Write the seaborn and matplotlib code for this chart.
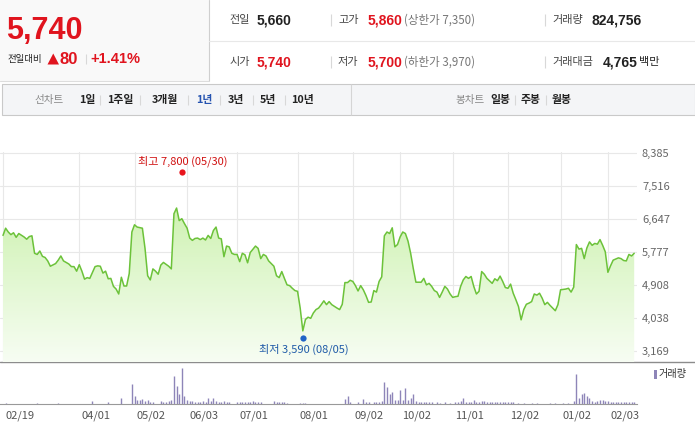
import numpy as np
import matplotlib
matplotlib.use("Agg")
import matplotlib.pyplot as plt
import matplotlib.transforms as mtrans
from matplotlib.colors import LinearSegmentedColormap
from matplotlib.patches import Rectangle, Polygon
import seaborn as sns

# ---------------- data ----------------
days = [0,1,2,3,4,5,6,8,9,10,11,12,13,14,15,16,17,18,20,21,22,23,25,26,27,28,29,30,31,32,33,35,36,37,38,39,
        40,41,42,43,44,45,46,47,48,49,50,51,53,54,55,56,57,58,59,60,61,62,63,64,65,66,67,68,69,70,71,72,73,74,
        75,76,77,78,79,80,81,82,83,84,85,86,87,88,89,90,91,92,93,94,96,97,98,99,100,101,103,104,105,106,107,108,
        109,110,111,112,113,114,115,116,117,118,119,120,121,122,123,124,125,127,128,129,130,131,132,133,134,135,
        136,137,138,139,140,141,142,143,144,145,146,147,148,149,150,151,152,153,154,155,156,157,158,159,160,161,
        162,163,164,165,166,167,168,169,170,171,172,173,174,175,176,177,178,179,180,181,182,183,184,186,187,188,
        189,190,191,192,193,194,195,196,197,198,199,200,201,202,203,204,205,206,207,208,209,210,211,212,214,215,
        216,217,218,219,220,221,222,223,224,225,226,227,228,229,230,231,232,233,234,235,236,237,238,239,240]
prices = [6210,6400,6300,6230,6280,6160,6260,6170,6110,6180,6200,5740,5710,5800,5660,5630,5540,5400,5470,5560,
          5670,5540,5460,5390,5390,5270,5440,5270,5060,5100,5080,5390,5410,5400,5220,5270,5070,5080,4870,4800,
          4670,5110,4880,4880,5210,6300,6490,6430,6400,5870,5150,5040,5330,5270,5190,5430,5500,5450,5400,5330,
          6780,6930,6600,6650,6520,6400,6140,6080,6130,6140,6100,6140,6090,6210,6130,6340,6430,6140,6120,5650,
          5930,5910,5740,5710,5710,5520,5740,5700,5490,5760,5930,5870,5600,5710,5670,5540,5400,5150,5100,5260,
          5080,4910,4890,4820,4760,4740,4300,3700,4000,4060,4030,4170,4260,4300,4390,4490,4390,4470,4390,4300,
          4260,4400,4970,4970,5030,5000,4890,4750,4890,4780,4630,4450,4460,4760,4720,5000,5120,6200,6300,6260,
          6410,5910,5970,6170,6300,6260,6060,5740,5340,4980,4980,4980,5080,4910,4950,4870,4760,4720,4580,4720,
          4870,4800,4670,4580,4600,4610,4870,5040,5130,5080,5130,4870,4670,4740,5260,5190,5080,4950,5070,5020,
          5140,5000,4840,4820,4930,4690,4520,4340,3990,4260,4400,4430,4470,4670,4640,4690,4560,4390,4450,4370,
          4300,4230,4390,4780,4800,4820,4720,4850,5970,5850,5870,5600,5880,6040,5950,6000,5980,6100,5950,5780,
          5240,5410,5560,5590,5620,5600,5550,5540,5710,5670,5740]

vol_days = [1,13,21,34,40,45,49,50,51,52,53,54,55,56,57,60,61,62,63,64,65,66,67,68,69,70,71,72,73,74,75,76,77,
            78,79,80,81,82,83,84,85,86,89,90,91,92,93,94,95,96,97,98,103,104,105,106,107,108,113,114,115,130,131,
            132,135,137,138,139,141,142,143,144,145,146,147,148,149,150,151,152,153,154,155,156,157,158,159,160,
            161,162,163,165,166,168,170,172,173,174,175,176,177,178,179,180,181,182,183,184,185,186,187,188,189,
            190,191,192,193,194,196,198,201,203,208,210,213,215,217,218,219,220,221,222,223,224,225,226,227,228,
            229,230,231,232,233,234,235,236,237,238,239,240]
vol_k = [450,450,450,1350,680,2900,9000,3400,1600,1800,2250,1350,1600,900,680,1130,900,900,1130,1800,12600,7900,
         4700,16400,3400,2000,1350,1130,900,900,900,1130,900,2500,1130,2900,1130,900,900,1350,900,900,680,680,680,
         680,680,900,1350,900,680,680,1350,900,680,680,680,450,450,450,450,2250,3400,900,680,2250,680,680,680,680,
         900,1350,10100,7650,4300,5600,2000,2000,6500,2000,7000,2000,2700,4300,1130,900,900,680,680,680,680,680,
         450,680,450,680,900,1130,2500,900,900,900,1600,900,900,1350,1350,900,900,900,680,900,680,680,680,680,680,
         680,450,450,450,450,450,450,450,450,1350,13500,2500,4500,4950,3800,2700,1350,900,1130,1600,1600,1130,1130,
         900,900,900,680,680,900,680,900,680,825]

tick_days = [0, 29, 50, 70, 89, 112, 133, 151, 171, 192, 212, 230]
tick_labels = ["02/19", "04/01", "05/02", "06/03", "07/01", "08/01", "09/02",
               "10/02", "11/01", "12/02", "01/02", "02/03"]
ytick_vals = [3169, 4038, 4908, 5777, 6647, 7516, 8385]

high_day, high_price, high_label = 68, 7800, "최고 7,800 (05/30)"
low_day, low_price, low_label = 114, 3590, "최저 3,590 (08/05)"

# ---------------- figure ----------------
sns.set_theme(style="white")
FK = ["Noto Sans CJK KR", "DejaVu Sans"]
FN = ["Liberation Sans", "Noto Sans CJK KR", "DejaVu Sans"]
plt.rcParams["font.family"] = FK

W, H = 695, 428
fig = plt.figure(figsize=(W / 100, H / 100), dpi=100)
fig.patch.set_facecolor("white")

bg = fig.add_axes([0, 0, 1, 1])
bg.set_xlim(0, W)
bg.set_ylim(H, 0)
bg.axis("off")

RED = "#e0141e"
DARK = "#222222"

def txt(x, y, s, size, color, weight="normal", family=FK, ha="left"):
    bg.text(x, y, s, fontsize=size, color=color, fontweight=weight, family=family,
            ha=ha, va="center")

def vbar(x, y0, y1, color="#d8d8d8"):
    bg.plot([x, x], [y0, y1], color=color, lw=0.8, solid_capstyle="butt")

# header left box
bg.add_patch(Rectangle((0, 0), 209, 81, fc="#f9f9f9", ec="none"))
bg.plot([209, 209], [0, 81], color="#cfcfcf", lw=0.8)
bg.plot([0, 209], [81, 81], color="#dddddd", lw=0.8)
bg.plot([209, W], [41, 41], color="#e8e8e8", lw=0.8)

txt(6, 31, "5,740", 22, RED, "bold", FN)
txt(8, 59, "전일대비", 6.8, DARK)
bg.add_patch(Polygon([[47.5, 64.5], [59, 64.5], [53.25, 53.5]], closed=True, fc=RED, ec="none"))
txt(59, 59, "80", 12, RED, "bold", FN)
vbar(86, 54, 64)
txt(90, 59, "+1.41%", 10.5, RED, "bold", FN)

# header right info
r1, r2 = 20, 62
txt(229, r1, "전일", 8, "#444444")
txt(257, r1, "5,660", 10, DARK, "bold", FN)
vbar(331, r1 - 6, r1 + 6)
txt(338, r1, "고가", 8, "#444444")
txt(368, r1, "5,860", 10, RED, "bold", FN)
txt(404, r1, "(상한가 7,350)", 8.3, "#777777")
vbar(545, r1 - 6, r1 + 6)
txt(552, r1, "거래량", 8, "#444444")
txt(592, r1, "824,756", 10, DARK, "bold", FN)

txt(229, r2, "시가", 8, "#444444")
txt(257, r2, "5,740", 10, RED, "bold", FN)
vbar(331, r2 - 6, r2 + 6)
txt(338, r2, "저가", 8, "#444444")
txt(368, r2, "5,700", 10, RED, "bold", FN)
txt(404, r2, "(하한가 3,970)", 8.3, "#777777")
vbar(545, r2 - 6, r2 + 6)
txt(552, r2, "거래대금", 8, "#444444")
txt(603, r2, "4,765", 10, DARK, "bold", FN)
txt(639, r2, "백만", 8, DARK)

# tab bar
bg.add_patch(Rectangle((2, 84), W - 2, 31, fc="#f4f5f7", ec="#c9c9c9", lw=0.8))
vbar(351, 84, 115, "#d5d5d5")
ty = 100
txt(34, ty, "선차트", 7.6, "#888888")
tabs = [(79, "1일", DARK), (107, "1주일", DARK), (152, "3개월", DARK), (196, "1년", "#2553b0"),
        (228, "3년", DARK), (260, "5년", DARK), (291, "10년", DARK)]
seps = [100, 140, 188, 220, 253, 285]
for x, s, c in tabs:
    txt(x, ty, s, 7.8, c, "bold")
for x in seps:
    vbar(x, ty - 5, ty + 5)
txt(455, ty, "봉차트", 7.6, "#888888")
for x, s in [(490, "일봉"), (521, "주봉"), (552, "월봉")]:
    txt(x, ty, s, 7.8, DARK, "bold")
for x in [515, 546]:
    vbar(x, ty - 5, ty + 5)

# ---------------- price chart ----------------
PX0, PXD = 3.0, 2.63          # pixel of day 0, pixels per trading day
x_lo = (0 - PX0) / PXD
x_hi = (637 - PX0) / PXD
top_px, bot_px = 152.2, 362.0
ppp = 869 / 33.05             # price per pixel
y_hi = 8385 + (152.7 - top_px) * ppp
y_lo = 8385 - (bot_px - 152.7) * ppp

ax = fig.add_axes([0, 1 - bot_px / H, 637 / W, (bot_px - top_px) / H])
ax.set_facecolor("none")

poly = ax.fill_between(days, prices, y_lo, facecolor="none", edgecolor="none")
cmap = LinearSegmentedColormap.from_list("g", ["#f7fdf3", "#dcf6c8", "#c0ed98"])
grad = np.linspace(0, 1, 256).reshape(-1, 1)
im = ax.imshow(grad, extent=[x_lo, x_hi, y_lo, y_hi], origin="lower", aspect="auto",
               cmap=cmap, zorder=1, interpolation="bilinear")
im.set_clip_path(poly.get_paths()[0], transform=ax.transData)

sns.lineplot(x=days, y=prices, ax=ax, color="#6cc23a", linewidth=1.1, zorder=3)

ax.set_xlim(x_lo, x_hi)
ax.set_ylim(y_lo, y_hi)
ax.set_xticks(tick_days)
ax.set_yticks(ytick_vals)
ax.set_yticklabels([f"{v:,}" for v in ytick_vals])
ax.yaxis.tick_right()
ax.tick_params(axis="x", length=0, labelbottom=False)
ax.tick_params(axis="y", length=0, pad=3.6, labelsize=8, labelcolor="#666666")
ax.grid(True, color="#e8e8e8", linewidth=0.8)
ax.set_axisbelow(True)
for sp in ax.spines.values():
    sp.set_visible(False)

up = mtrans.offset_copy(ax.transData, fig=fig, x=0, y=3, units="dots")
dn = mtrans.offset_copy(ax.transData, fig=fig, x=0, y=-3, units="dots")
ax.plot([high_day], [high_price], "o", color="#e8141c", ms=4.5, mec="none", transform=up, zorder=5)
ax.plot([low_day], [low_price], "o", color="#1f63c6", ms=4.5, mec="none", transform=dn, zorder=5)
ax.annotate(high_label, (high_day, high_price), xytext=(0.3, 10.2), textcoords="offset points",
            ha="center", va="center", fontsize=8, color="#d01010", annotation_clip=False)
ax.annotate(low_label, (low_day, low_price), xytext=(0.5, -10.3), textcoords="offset points",
            ha="center", va="center", fontsize=8, color="#1f5aa8", annotation_clip=False)

bg.plot([0, W], [362, 362], color="#8c8c8c", lw=1.0)

# ---------------- volume chart ----------------
av = fig.add_axes([0, 1 - 404 / H, 637 / W, 42 / H])
av.set_facecolor("none")
av.vlines(vol_days, 0, vol_k, color="#8e85b8", linewidth=1.0)
av.set_xlim(x_lo, x_hi)
av.set_ylim(0, 18900)
av.set_yticks([])
av.set_xticks(tick_days)
av.tick_params(axis="x", direction="out", length=3.5, width=0.8, color="#999999", labelbottom=False)
for k, sp in av.spines.items():
    sp.set_visible(k == "bottom")
av.spines["bottom"].set_color("#999999")
av.spines["bottom"].set_linewidth(0.8)
tr = mtrans.blended_transform_factory(av.transData, av.transAxes)
for d, lab in zip(tick_days, tick_labels):
    av.text(d + 0.8, -0.29, lab, transform=tr, ha="left", va="center", fontsize=8, color="#555555")

bg.add_patch(Rectangle((654, 369.5), 2.5, 9, fc="#8e85b8", ec="none"))
txt(659, 374, "거래량", 7.3, "#333333")

fig.savefig("out.png", dpi=100)
